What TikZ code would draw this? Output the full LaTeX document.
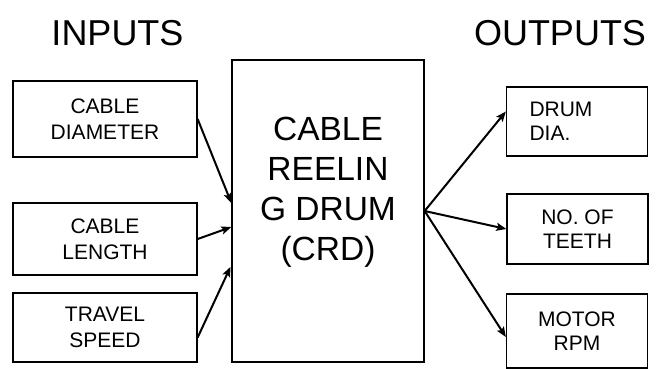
\documentclass[tikz,border=0pt]{standalone}
\usepackage{fontspec}
\setmainfont{Liberation Sans}
\usetikzlibrary{arrows.meta}

\begin{document}
\begin{tikzpicture}[>={Stealth[length=10pt, width=8pt, inset=2pt]}, x=1pt, y=-1pt,
title/.style={inner sep=0, font=\fontsize{36}{40}\selectfont},
input/.style={draw, line width=1.3pt, inner sep=0, minimum width=184pt, align=center, font=\fontsize{21}{26}\selectfont},
output/.style={draw, line width=1.3pt, inner sep=0, minimum width=141pt, align=center, font=\fontsize{21}{24}\selectfont},
crdbox/.style={draw, line width=1.3pt, minimum width=192pt, minimum height=302pt},
crdtext/.style={inner sep=0, align=center, font=\fontsize{33.5}{40}\selectfont},
flow/.style={->, line width=2pt}]
\useasboundingbox (0,0) rectangle (665,368);
\node[title, anchor=base] (inputs) at (117.5,45) {INPUTS};
\node[title, anchor=base] (outputs) at (560,45) {OUTPUTS};
% what goes into the drum
\node[input, minimum height=76pt] (diameter) at (105,119) {CABLE\\DIAMETER};
\node[input, minimum height=72pt] (length) at (105,239) {CABLE\\LENGTH};
\node[input, minimum height=69pt] (speed) at (105,327.5) {TRAVEL\\SPEED};
% the drum itself
\node[crdbox] (crd) at (328,211) {};
\node[crdtext, anchor=north] (crdname) at (328,117) {CABLE\\REELIN\\G DRUM\\(CRD)};
% what comes out
\node[output, minimum height=69pt, text width=95pt, inner xsep=23pt, align=left] (dia) at (577,121.5) {DRUM\\DIA.};
\node[output, minimum height=70pt] (teeth) at (577.5,229) {NO. OF\\TEETH};
\node[output, minimum height=74pt] (rpm) at (577,331) {MOTOR\\RPM};
\draw[flow] (diameter.east) -- ([yshift=8pt]crd.west);
\draw[flow] (length.east) -- ([yshift=-16pt]crd.west);
\draw[flow, shorten >=2pt] ([yshift=-10pt]speed.east) -- ([yshift=-54pt]crd.west);
\draw[flow] (crd.east) -- ([yshift=10pt]dia.west);
\draw[flow] (crd.east) -- (teeth.west);
\draw[flow] (crd.east) -- ([yshift=-6pt]rpm.west);
\end{tikzpicture}
\end{document}
